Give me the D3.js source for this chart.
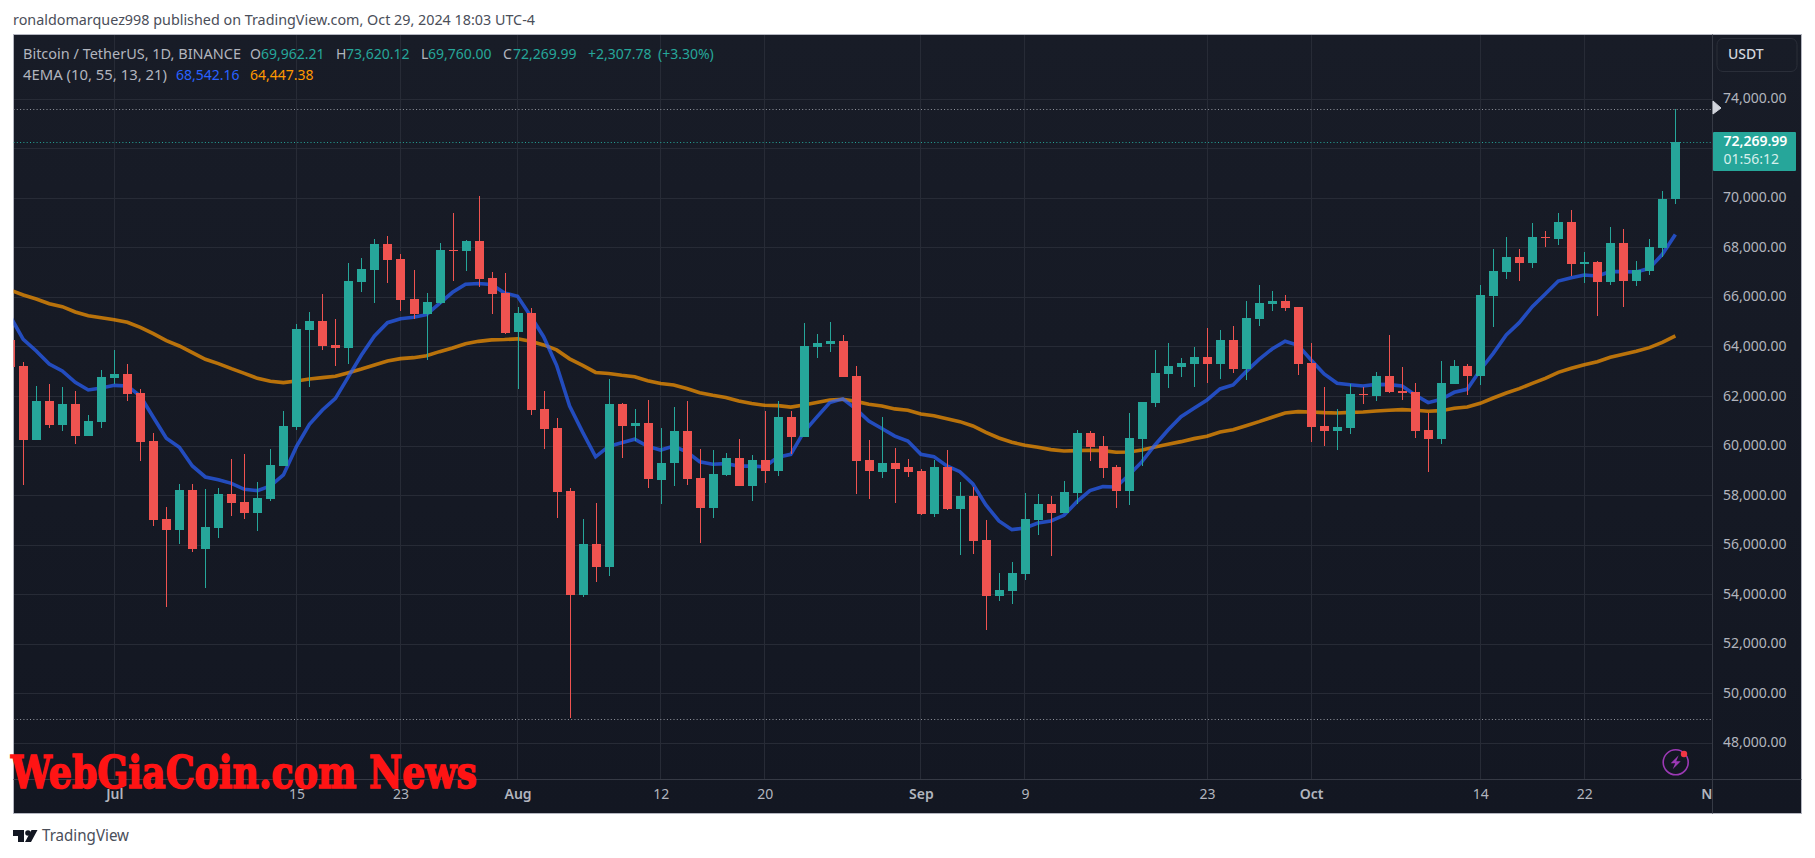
<!DOCTYPE html>
<html>
<head>
<meta charset="utf-8">
<title>BTCUSDT</title>
<script src="https://cdn.jsdelivr.net/npm/d3@7"></script>
<style>
  html, body { margin: 0; padding: 0; background: #fff; overflow: hidden; }
  svg { display: block; }
  text { font-family: "Noto Sans", sans-serif; }
</style>
</head>
<body>
<div id="chart"></div>
<script>
// one candle per day, 23 Jun 2024 .. 29 Oct 2024
const opens = [
  64283, 63233, 60246, 61820, 60851, 61699, 60407, 60973,
  62749, 62910, 62143, 60205, 57056, 56612, 58227, 55845, 56693, 58065, 57742, 57298, 57864, 59196, 60770, 64686,
  65050, 64081, 63960, 66624, 67109, 68158, 67553, 65938, 65332, 65776, 67916, 67864, 68268, 66782, 66176,
  64589, 65368, 61486, 60721, 58167, 53968, 56032, 55094, 61688, 60794, 60924, 58658, 59307, 60592, 58701, 57489,
  58817, 59510, 58369, 59423, 58975, 61154, 60346, 63983, 64112, 64228, 62814, 59423, 58975, 59336, 59156,
  58994, 57258, 59156, 57460, 57985, 56208, 53948, 54150, 54836, 57016, 57662, 57299, 58106, 60528, 60003, 59156,
  58187, 60286, 61740, 62910, 63193, 63314, 63597, 63314, 64283, 63112, 65131, 65736, 65857, 65615,
  63354, 60811, 60609, 60729, 62102, 62022, 62829, 62223, 62183, 60649, 60285, 62506, 63233, 62829, 66059, 67028,
  67633, 67391, 68440, 68360, 69046, 67350, 67431, 66624, 68198, 66664, 67068, 67996, 69962.21
];
const highs = [
  64500, 63394, 62425, 62506, 62385, 62224, 61255, 63072,
  63879, 63314, 62304, 60528, 57540, 58469, 58469, 58267, 58307, 59479, 59680, 58550, 59882, 61416, 64929, 65413,
  66140, 65130, 67391, 67593, 68360, 68481, 67755, 67109, 66180, 68199, 69410, 68312, 70087, 67013, 67000,
  65628, 65584, 62208, 61126, 58297, 57042, 57720, 62727, 61732, 61486, 61847, 60721, 61558, 61804, 59870, 59827,
  59711, 60274, 59639, 61400, 61804, 61400, 64964, 64517, 64993, 64473, 63218, 60231, 61154, 59942, 59479,
  59075, 59438, 59842, 58550, 58348, 57016, 54876, 55320, 58106, 58066, 57985, 58590, 60649, 60609, 60407, 59236,
  61336, 61780, 63879, 64162, 63556, 64000, 64767, 64687, 64848, 65857, 66503, 66261, 66100, 65615,
  64162, 62385, 61497, 62506, 62385, 62990, 64484, 63192, 62546, 61335, 63434, 63475, 63313, 66503, 67956, 68440,
  67956, 69006, 68683, 69409, 69531, 67835, 67471, 68844, 68763, 67471, 68360, 70297, 73620.12
];
const lows = [
  63150, 58429, 60246, 60730, 60609, 60084, 60407, 60730,
  62506, 61820, 59398, 56774, 53503, 56047, 55724, 54271, 56289, 57177, 57056, 56572, 57783, 59196, 60649, 62385,
  63879, 63233, 63314, 66220, 65776, 66584, 65453, 65130, 63475, 65736, 66665, 67056, 66407, 65325, 64517,
  62294, 61256, 59870, 57114, 49004, 53925, 54531, 54748, 59538, 60202, 58297, 57648, 58370, 58413, 56075, 57085,
  58773, 58369, 57763, 58528, 58773, 59697, 60346, 63550, 63780, 62771, 58052, 57850, 58701, 57691, 58752,
  57218, 57137, 57420, 55603, 55643, 52575, 53746, 53625, 54594, 56410, 55563, 57299, 57662, 59398, 58712, 57501,
  57622, 59196, 61578, 62345, 62789, 62385, 62547, 62708, 62951, 62668, 64848, 65454, 65454, 62870,
  60165, 60003, 59842, 60487, 61698, 61820, 62143, 61860, 60326, 58953, 60084, 62506, 62062, 62466, 64807, 66745,
  66664, 67189, 68037, 68117, 66866, 66583, 65251, 66503, 65614, 66462, 66906, 67633, 69760
];
const closes = [
  63206, 60246, 61820, 60851, 61699, 60407, 61013, 62789,
  62910, 62103, 60165, 57016, 56612, 58227, 55845, 56733, 58065, 57702, 57298, 57904, 59236, 60811, 64727, 65050,
  64040, 63960, 66665, 67149, 68158, 67512, 65897, 65332, 65817, 67916, 67876, 68268, 66739, 66133, 64574,
  65368, 61443, 60678, 58124, 53968, 56032, 55094, 61688, 60794, 60924, 58658, 59336, 60592, 58658, 57489, 58860,
  59510, 58369, 59423, 58975, 61154, 60346, 64026, 64156, 64228, 62771, 59379, 58975, 59336, 59105, 58954,
  57258, 59156, 57460, 57985, 56168, 53948, 54190, 54876, 57057, 57662, 57299, 58146, 60528, 59963, 59115, 58187,
  60327, 61780, 62951, 63233, 63354, 63597, 63314, 64283, 63112, 65171, 65777, 65857, 65575, 63314,
  60771, 60609, 60771, 62102, 62062, 62829, 62183, 62143, 60608, 60285, 62546, 63233, 62829, 66099, 67068, 67633,
  67391, 68440, 68387, 69046, 67350, 67418, 66624, 68198, 66664, 67108, 68037, 69975, 72269.99
];

const emaFast = [
  65238, 64310, 63839, 63314, 63031, 62574, 62264, 62345,
  62452, 62425, 62022, 61161, 60313, 59950, 59196, 58752, 58644, 58496, 58254, 58200, 58388, 58833, 59976, 60878,
  61457, 61928, 62802, 63677, 64444, 64982, 65144, 65198, 65305, 65763, 66207, 66537, 66566, 66522, 66176,
  66046, 65253, 64416, 63261, 61616, 60563, 59567, 59986, 60130, 60274, 59986, 59841, 60000, 59769, 59365, 59264,
  59293, 59192, 59192, 59163, 59553, 59668, 60563, 61169, 61760, 61905, 61501, 61010, 60707, 60404, 60205,
  59667, 59573, 59196, 58967, 58470, 57622, 56976, 56626, 56693, 56895, 56976, 57204, 57756, 58200, 58362, 58348,
  58833, 59371, 60044, 60650, 61188, 61524, 61861, 62305, 62466, 63005, 63502, 63920, 64229, 64068,
  63476, 62910, 62534, 62479, 62425, 62492, 62479, 62425, 62062, 61752, 61887, 62170, 62290, 63071, 63744, 64484,
  64982, 65628, 66139, 66664, 66799, 66906, 66866, 67041, 67041, 67027, 67175, 67741, 68542.16
];
const emaSlow = [
  66301, 66099, 65938, 65749, 65628, 65413, 65265, 65184,
  65103, 64996, 64794, 64538, 64256, 64040, 63771, 63502, 63327, 63125, 62937, 62735, 62614, 62560, 62627, 62708,
  62762, 62816, 62964, 63112, 63273, 63435, 63529, 63569, 63650, 63812, 63960, 64127, 64228, 64286, 64300,
  64329, 64228, 64084, 63882, 63521, 63261, 62973, 62929, 62857, 62800, 62641, 62525, 62468, 62323, 62150, 62049,
  61963, 61818, 61717, 61645, 61631, 61573, 61659, 61760, 61861, 61890, 61804, 61688, 61616, 61501, 61443,
  61295, 61228, 61107, 60986, 60811, 60555, 60326, 60152, 60030, 59950, 59856, 59802, 59815, 59829, 59815, 59748,
  59761, 59842, 59963, 60071, 60179, 60300, 60394, 60569, 60663, 60824, 60986, 61161, 61336, 61390,
  61376, 61349, 61336, 61362, 61376, 61416, 61443, 61470, 61443, 61403, 61430, 61524, 61577, 61725, 61941, 62142,
  62318, 62533, 62735, 62977, 63138, 63286, 63408, 63583, 63704, 63825, 63973, 64188, 64447.38
];

const priceTicks = [48000, 50000, 52000, 54000, 56000, 58000, 60000, 62000, 64000, 66000, 68000, 70000, 72000, 74000];
const timeTicks = ["2024-07-01", "2024-07-15", "2024-07-23", "2024-08-01", "2024-08-12", "2024-08-20", "2024-09-01",
  "2024-09-09", "2024-09-23", "2024-10-01", "2024-10-14", "2024-10-22", "2024-11-01"];
const timeLabels = ["Jul", "15", "23", "Aug", "12", "20", "Sep", "9", "23", "Oct", "14", "22", "Nov"];
const boldLabels = ["Jul", "Aug", "Sep", "Oct", "Nov"];
const rangeHigh = 73620.12, rangeLow = 49000, lastClose = 72269.99;

const width = 1815, height = 858;
const frame = { left: 13.5, top: 34.5, right: 1801.5, bottom: 813.5 };
const plotRight = 1712, plotBottom = 779;

const up = "#26a69a", down = "#ef5350", textGrey = "#b2b5be", gridColor = "#272b36", sepColor = "#363a45";

const parse = d3.utcParse("%Y-%m-%d");
const days = d3.utcDay.range(parse("2024-06-23"), parse("2024-10-30"));

const x = d3.scaleUtc()
    .domain([parse("2024-07-01"), parse("2024-10-22")])
    .range([114.3, 1584.3]);
const y = d3.scaleLinear()
    .domain([48000, 74000])
    .range([743.3, 99.3]);

const svg = d3.select("#chart").append("svg")
    .attr("width", width)
    .attr("height", height);

const defs = svg.append("defs");
const grad = defs.append("linearGradient")
    .attr("id", "bg").attr("x1", 0).attr("y1", 0).attr("x2", 0).attr("y2", 1);
grad.append("stop").attr("offset", "0%").attr("stop-color", "#181c27");
grad.append("stop").attr("offset", "100%").attr("stop-color", "#131722");
defs.append("clipPath").attr("id", "plot").append("rect")
    .attr("x", frame.left).attr("y", frame.top)
    .attr("width", plotRight - frame.left).attr("height", plotBottom - frame.top);
defs.append("clipPath").attr("id", "timeClip").append("rect")
    .attr("x", frame.left).attr("y", 0)
    .attr("width", plotRight - frame.left).attr("height", frame.bottom - plotBottom);

svg.append("text")
    .attr("x", 13).attr("y", 25)
    .attr("textLength", 522).attr("lengthAdjust", "spacingAndGlyphs")
    .attr("fill", "#4a4e59").style("font-size", "14px")
    .text("ronaldomarquez998 published on TradingView.com, Oct 29, 2024 18:03 UTC-4");

svg.append("rect")
    .attr("x", frame.left).attr("y", frame.top)
    .attr("width", frame.right - frame.left).attr("height", frame.bottom - frame.top)
    .attr("fill", "url(#bg)")
    .attr("stroke", "#b4b6c0");

// grid
const grid = svg.append("g").attr("clip-path", "url(#plot)").attr("shape-rendering", "crispEdges");
grid.selectAll("line.h").data(priceTicks).join("line")
    .attr("class", "h")
    .attr("x1", frame.left).attr("x2", plotRight)
    .attr("y1", d => y(d)).attr("y2", d => y(d))
    .attr("stroke", gridColor);
grid.selectAll("line.v").data(timeTicks.slice(0, -1)).join("line")
    .attr("class", "v")
    .attr("x1", d => x(parse(d))).attr("x2", d => x(parse(d)))
    .attr("y1", frame.top).attr("y2", plotBottom)
    .attr("stroke", gridColor);

// ema lines go under the candles
const plot = svg.append("g").attr("clip-path", "url(#plot)");
const emaLine = d3.line().x((d, i) => x(days[i])).y(d => y(d));
plot.append("path").attr("d", emaLine(emaSlow))
    .attr("fill", "none").attr("stroke", "#ff9800").attr("stroke-opacity", 0.7).attr("stroke-width", 3.6);
plot.append("path").attr("d", emaLine(emaFast))
    .attr("fill", "none").attr("stroke", "#2962ff").attr("stroke-opacity", 0.7).attr("stroke-width", 3.6);

const candles = plot.selectAll("g.candle").data(days).join("g")
    .attr("class", "candle")
    .attr("shape-rendering", "crispEdges")
    .attr("fill", (d, i) => closes[i] >= opens[i] ? up : down);
candles.append("rect")
    .attr("x", d => Math.round(x(d)))
    .attr("width", 1)
    .attr("y", (d, i) => y(highs[i]))
    .attr("height", (d, i) => y(lows[i]) - y(highs[i]));
candles.append("rect")
    .attr("x", d => Math.round(x(d)) - 4)
    .attr("width", 9)
    .attr("y", (d, i) => Math.round(y(Math.max(opens[i], closes[i]))))
    .attr("height", (d, i) => Math.max(1, Math.round(Math.abs(y(opens[i]) - y(closes[i])))));

// high / low / last price lines
[[rangeHigh, "#9598a1"], [rangeLow, "#9598a1"], [lastClose, up]].forEach(([p, c]) => {
  plot.append("line")
      .attr("x1", frame.left).attr("x2", plotRight)
      .attr("y1", Math.round(y(p)) + 0.5).attr("y2", Math.round(y(p)) + 0.5)
      .attr("stroke", c).attr("stroke-dasharray", "1 2.3");
});

// separators
svg.append("line").attr("x1", plotRight + 0.5).attr("x2", plotRight + 0.5)
    .attr("y1", frame.top).attr("y2", frame.bottom).attr("stroke", sepColor);
svg.append("line").attr("x1", frame.left).attr("x2", frame.right)
    .attr("y1", plotBottom + 0.5).attr("y2", plotBottom + 0.5).attr("stroke", sepColor);

// price axis
const priceAxis = svg.append("g")
    .attr("transform", `translate(${plotRight},-1)`)
    .call(d3.axisRight(y).tickValues(priceTicks).tickSize(0).tickPadding(11)
        .tickFormat(d3.format(",.2f")));
priceAxis.select(".domain").remove();
priceAxis.selectAll("text").attr("fill", textGrey)
    .style("font-size", "14px").style("font-family", '"Noto Sans", sans-serif');

// time axis
const timeAxis = svg.append("g")
    .attr("transform", `translate(0,${plotBottom})`)
    .attr("clip-path", "url(#timeClip)")
    .call(d3.axisBottom(x).tickValues(timeTicks.map(parse)).tickSize(0).tickPadding(10)
        .tickFormat((d, i) => timeLabels[i]));
timeAxis.select(".domain").remove();
timeAxis.selectAll("text").attr("fill", textGrey)
    .style("font-size", "14px").style("font-family", '"Noto Sans", sans-serif')
    .style("font-weight", (d, i) => boldLabels.includes(timeLabels[i]) ? 600 : 400);

// currency box
svg.append("rect")
    .attr("x", 1717).attr("y", 38.5).attr("width", 80).attr("height", 33).attr("rx", 6)
    .attr("fill", "none").attr("stroke", "#2a2e39");
svg.append("text").attr("x", 1728).attr("y", 59)
    .attr("fill", "#d1d4dc").style("font-size", "14px").style("font-weight", 500).text("USDT");

// high marker + last price label
svg.append("path").attr("d", "M1713,101 L1721,108 L1713,114 Z")
    .attr("fill", "#d1d4dc").attr("stroke", "#d1d4dc").attr("stroke-linejoin", "round");
svg.append("rect").attr("x", 1713).attr("y", 132).attr("width", 83).attr("height", 39).attr("rx", 1).attr("fill", up);
svg.append("text").attr("x", 1723.5).attr("y", 146)
    .attr("fill", "#fff").style("font-size", "14px").style("font-weight", 600).text("72,269.99");
svg.append("text").attr("x", 1723.5).attr("y", 164)
    .attr("fill", "#d6efec").style("font-size", "14px").text("01:56:12");

// legend
const legendRows = [
  [23, 59, "Bitcoin / TetherUS, 1D, BINANCE", textGrey, 218],
  [250, 59, "O", textGrey], [261, 59, "69,962.21", up],
  [336, 59, "H", textGrey], [346, 59, "73,620.12", up],
  [421, 59, "L", textGrey], [428, 59, "69,760.00", up],
  [503, 59, "C", textGrey], [513, 59, "72,269.99", up],
  [588, 59, "+2,307.78", up], [658, 59, "(+3.30%)", up],
  [23, 80, "4EMA (10, 55, 13, 21)", textGrey, 144],
  [176, 80, "68,542.16", "#2962ff"], [250, 80, "64,447.38", "#ff9800"]
];
svg.append("g").selectAll("text").data(legendRows).join("text")
    .attr("x", d => d[0]).attr("y", d => d[1]).attr("fill", d => d[3])
    .attr("textLength", d => d[4] || null)
    .attr("lengthAdjust", d => d[4] ? "spacingAndGlyphs" : null)
    .style("font-size", "14px")
    .text(d => d[2]);

// lightning icon
const icon = svg.append("g").attr("transform", "translate(1675.7,762.3)");
icon.append("circle").attr("r", 12.5).attr("fill", "none").attr("stroke", "#9c39b5").attr("stroke-width", 1.6);
icon.append("path").attr("d", "M3,-7 L-5,1 L-0.5,1 L-3,7 L5,-1 L0.5,-1 Z").attr("fill", "#9c39b5");
icon.append("circle").attr("cx", 8.3).attr("cy", -8.3).attr("r", 3.2).attr("fill", "#f23645");

// watermark
svg.append("text")
    .attr("x", 11).attr("y", 788)
    .attr("textLength", 466).attr("lengthAdjust", "spacingAndGlyphs")
    .attr("fill", "#ff1414").attr("stroke", "#ff1414").attr("stroke-width", 1.6)
    .style("font-family", '"DejaVu Serif", serif')
    .style("font-weight", 700).style("font-size", "45px")
    .text("WebGiaCoin.com News");

// footer logo
svg.append("path").attr("d", "M13,830 H24 V842 H18 V836 H13 Z M37.5,830 L31,842 H25 L31.5,830 Z").attr("fill", "#131722");
svg.append("circle").attr("cx", 28).attr("cy", 833).attr("r", 2.8).attr("fill", "#131722");
svg.append("text").attr("x", 42).attr("y", 841)
    .attr("textLength", 87).attr("lengthAdjust", "spacingAndGlyphs")
    .attr("fill", "#4a4e59").style("font-size", "16px").text("TradingView");
</script>
</body>
</html>
